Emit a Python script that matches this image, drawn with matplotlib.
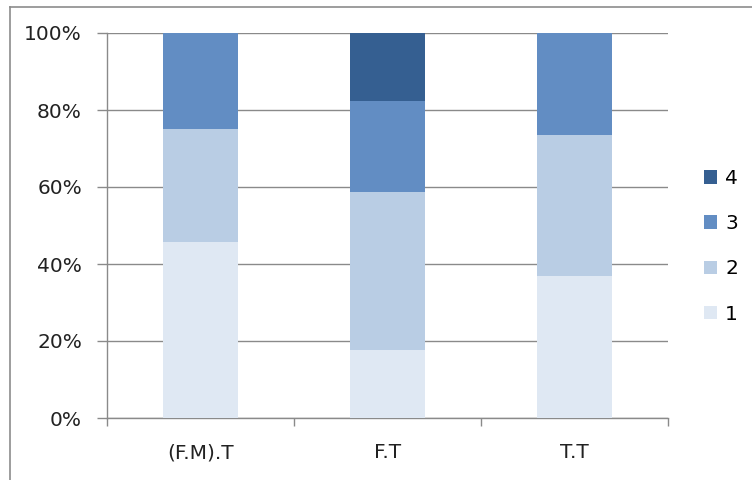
import matplotlib.pyplot as plt
from matplotlib.lines import Line2D
from matplotlib.ticker import FuncFormatter, FixedLocator

plt.rcParams['font.family'] = ['DejaVu Sans']

# Shares of each level per group, in percent
categories = ['(F.M).T', 'F.T', 'T.T']
series_names = ['1', '2', '3', '4']
level1 = [45.8, 17.6, 36.8]
level2 = [29.2, 41.2, 36.8]
level3 = [25.0, 23.5, 26.4]
level4 = [0.0, 17.7, 0.0]
colors = ['#DFE8F3', '#B9CDE4', '#628DC3', '#355F91']

fig = plt.figure(figsize=(7.52, 4.8), dpi=100)
ax = fig.add_axes([107 / 752, 62 / 480, 561 / 752, 385 / 480])

# grey chart frame, only its top and left edges are inside the picture
top_y = 1 - 6.5 / 480
left_x = 9.5 / 752
fig.add_artist(Line2D([left_x, 1.0], [top_y, top_y], transform=fig.transFigure,
                      color='#8c8c8c', linewidth=1.2))
fig.add_artist(Line2D([left_x, left_x], [0.0, top_y], transform=fig.transFigure,
                      color='#8c8c8c', linewidth=1.2))

x = range(len(categories))
bottom = [0.0] * len(categories)
handles = []
for vals, name, col in zip([level1, level2, level3, level4], series_names, colors):
    bars = ax.bar(x, vals, width=0.4, bottom=bottom, color=col, label=name, zorder=3)
    handles.append(bars)
    bottom = [b + v for b, v in zip(bottom, vals)]

ax.set_xlim(-0.5, len(categories) - 0.5)
ax.set_ylim(0, 100)
ax.set_yticks([0, 20, 40, 60, 80, 100])
ax.yaxis.set_major_formatter(FuncFormatter(lambda v, p: f'{int(v)}%'))
ax.grid(axis='y', color='#8a8a8a', linewidth=1.0, zorder=0)

# category labels centred, tick marks at the boundaries
ax.set_xticks([])
ax.xaxis.set_minor_locator(FixedLocator([-0.5, 0.5, 1.5, 2.5]))
ax.tick_params(axis='x', which='minor', length=6, color='#8a8a8a', width=1)
for i, c in enumerate(categories):
    ax.text(i, -6.5, c, ha='center', va='top', fontsize=14.5, color='#222222',
            transform=ax.transData)

ax.tick_params(axis='y', length=7, color='#8a8a8a', width=1, labelsize=14.5,
               labelcolor='#222222', pad=11)

for s in ['top', 'right']:
    ax.spines[s].set_visible(False)
for s in ['left', 'bottom']:
    ax.spines[s].set_color('#8a8a8a')
    ax.spines[s].set_linewidth(1.0)

leg = fig.legend(handles[::-1], series_names[::-1], loc='center left',
                 bbox_to_anchor=(704 / 752, 0.487), frameon=False, fontsize=14.5,
                 handlelength=0.65, handleheight=0.65, handletextpad=0.4,
                 labelspacing=1.3, borderpad=0, borderaxespad=0)

fig.savefig('out.png', dpi=100)
